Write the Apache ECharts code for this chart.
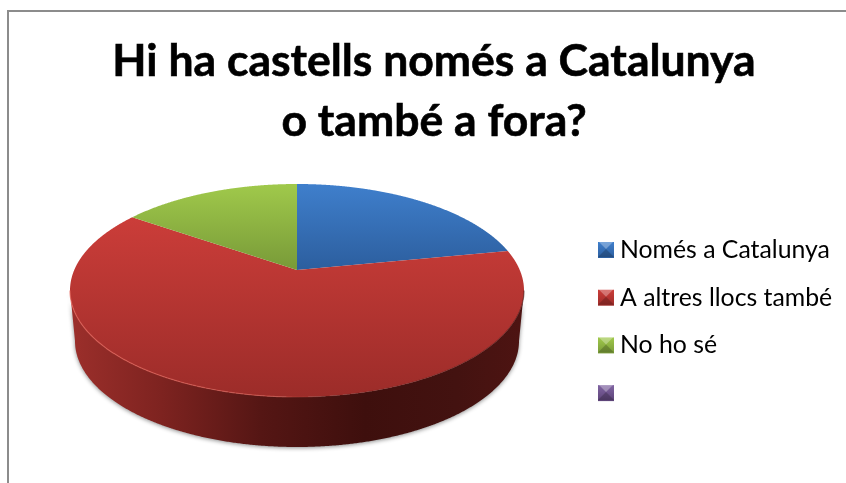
<!DOCTYPE html>
<html>
<head>
<meta charset="utf-8">
<style>html,body{margin:0;padding:0;background:#fff}#c{width:846px;height:483px}</style>
<script src="https://cdn.jsdelivr.net/npm/echarts@6/dist/echarts.min.js"></script>
</head>
<body>
<div id="c"></div>
<script>
var titleText = 'Hi ha castells només a Catalunya\no també a fora?';
var categories = ['Només a Catalunya', 'A altres llocs també', 'No ho sé', ' '];
var values = [25, 57, 18, 0];
var faceTop = ['#3F7FCC', '#CB3D39', '#A0C94B', '#8064A2'];
var faceBottom = ['#2C5E9E', '#9C2C29', '#789A38', '#5C4377'];

// tilted disc geometry
var geo = {cx: 297, cy: 290.5, rx: 227, ry: 106.5, tilt: 0.192, bcy: 341, brx: 222, bry: 106};
var total = values.reduce(function (a, b) { return a + b; }, 0);

function rim(frac) {
  var a = -Math.PI / 2 + frac * 2 * Math.PI;
  var zx = Math.cos(a), zy = Math.sin(a), d = geo.tilt;
  // (z + c) / (1 + conj(c) z), c = -d i
  var nx = zx, ny = zy - d;
  var mx = 1 - d * zy, my = d * zx;
  var m = mx * mx + my * my;
  return [(nx * mx + ny * my) / m, (ny * mx - nx * my) / m];
}
function toFace(u) { return [geo.cx + u[0] * geo.rx, geo.cy + u[1] * geo.ry]; }
function toBase(u) { return [geo.cx + u[0] * geo.brx, geo.bcy + u[1] * geo.bry]; }

function makeRender(idx) {
  return function (params, api) {
    var v = api.value(0);
    if (!v) return {type: 'group', children: []};
    var start = 0;
    for (var i = 0; i < idx; i++) start += values[i];
    var f0 = start / total, f1 = (start + v) / total;
    var steps = Math.max(8, Math.round((f1 - f0) * 1440));
    var rimU = [];
    for (var s = 0; s <= steps; s++) rimU.push(rim(f0 + (f1 - f0) * s / steps));
    var front = rimU.filter(function (u) { return u[1] >= 0; });
    var children = [];
    if (front.length > 1) {
      var wall = front.map(toFace).concat(front.slice().reverse().map(toBase));
      children.push({
        type: 'polygon',
        shape: {points: wall},
        style: {
          fill: new echarts.graphic.LinearGradient(0, 0, 1, 0, [
            {offset: 0, color: '#9C2F2B'},
            {offset: 0.2, color: '#7E2320'},
            {offset: 0.42, color: '#551614'},
            {offset: 0.65, color: '#3E0F0D'},
            {offset: 0.85, color: '#431210'},
            {offset: 1, color: '#4E1412'}
          ]),
          shadowColor: 'rgba(0,0,0,0.45)', shadowBlur: 4, shadowOffsetX: 0, shadowOffsetY: 1
        }
      });
    }
    var face = [[geo.cx, 270]].concat(rimU.map(toFace));
    children.push({
      type: 'polygon',
      shape: {points: face},
      style: {
        fill: new echarts.graphic.LinearGradient(0, 0, 0, 1, [
          {offset: 0, color: faceTop[idx]},
          {offset: 1, color: faceBottom[idx]}
        ])
      }
    });
    if (front.length > 1) {
      children.push({
        type: 'polyline',
        shape: {points: front.map(toFace)},
        style: {
          fill: null, lineWidth: 1.2,
          stroke: new echarts.graphic.LinearGradient(0, 0, 1, 0, [
            {offset: 0, color: 'rgba(230,100,90,0.7)'},
            {offset: 0.45, color: 'rgba(225,95,85,0.55)'},
            {offset: 0.58, color: 'rgba(120,35,30,0.25)'},
            {offset: 1, color: 'rgba(60,15,13,0.55)'}
          ])
        }
      });
    }
    return {type: 'group', children: children};
  };
}

var series = categories.map(function (name, i) {
  return {
    type: 'custom',
    name: name,
    coordinateSystem: 'none',
    silent: true,
    renderItem: makeRender(i),
    itemStyle: {
      color: new echarts.graphic.LinearGradient(0, 0, 0, 1, [
        {offset: 0, color: faceTop[i]},
        {offset: 1, color: faceBottom[i]}
      ])
    },
    data: [[values[i]]]
  };
});

// bevel on the legend swatches
var bevel = [];
categories.forEach(function (name, i) {
  var x = 598, y = 241 + i * 47.7, s = 16;
  bevel.push(
    {type: 'polygon', silent: true, z: 20, zlevel: 1, shape: {points: [[x, y], [x + s, y], [x + s / 2, y + s / 2]]},
     style: {fill: 'rgba(255,255,255,0.3)'}},
    {type: 'polygon', silent: true, z: 20, zlevel: 1, shape: {points: [[x, y + s], [x + s, y + s], [x + s / 2, y + s / 2]]},
     style: {fill: 'rgba(0,0,0,0.2)'}}
  );
});

var chart = echarts.init(document.getElementById('c'), null, {renderer: 'canvas'});
chart.setOption({
  animation: false,
  backgroundColor: '#fff',
  title: {
    text: titleText,
    left: 429, top: 27,
    textAlign: 'center',
    textStyle: {fontFamily: 'Lato', fontWeight: 'bold', fontSize: 44.5, lineHeight: 60, color: '#000',
                textBorderColor: '#000', textBorderWidth: 0.6}
  },
  legend: {
    orient: 'vertical',
    left: 598, top: 236,
    itemWidth: 16, itemHeight: 16, itemGap: 19.7,
    icon: 'rect',
    selectedMode: false,
    padding: 0,
    textStyle: {fontFamily: 'Lato', fontSize: 24.8, lineHeight: 28, color: '#000', padding: [0, 0, 0, 1]},
    data: categories
  },
  graphic: [
    {type: 'polyline', silent: true, shape: {points: [[8, 483], [8, 11], [846, 11]]},
     style: {fill: null, stroke: '#8C8C8C', lineWidth: 2}}
  ].concat(bevel),
  series: series
});
</script>
</body>
</html>
